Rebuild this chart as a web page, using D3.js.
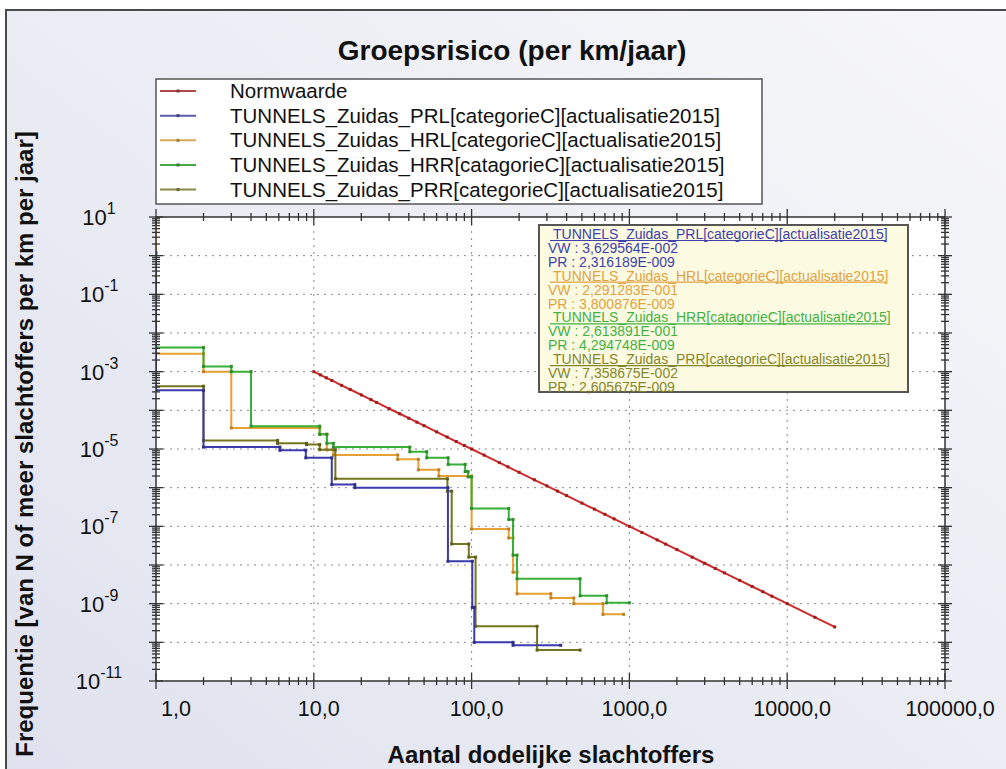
<!DOCTYPE html>
<html>
<head>
<meta charset="utf-8">
<script src="https://cdn.jsdelivr.net/npm/d3@7"></script>
<style>
  html, body { margin: 0; padding: 0; background: #fff; }
  svg { display: block; font-family: "Liberation Sans", Arial, sans-serif; }
</style>
</head>
<body>
<div id="chart"></div>
<script>
// ---- data ----
const seriesNames = [
  "Normwaarde",
  "TUNNELS_Zuidas_PRL[categorieC][actualisatie2015]",
  "TUNNELS_Zuidas_HRL[categorieC][actualisatie2015]",
  "TUNNELS_Zuidas_HRR[catagorieC][actualisatie2015]",
  "TUNNELS_Zuidas_PRR[categorieC][actualisatie2015]"
];
const seriesColors = ["#cc2b2b", "#3b3bab", "#e8a032", "#38b038", "#76761f"];
const legendColors = ["#b04848", "#5a5ab0", "#d8a858", "#48a848", "#8a8a48"];

const normN = [10, 11, 12, 13, 15, 17, 20, 23, 25, 30, 35, 40, 45, 50, 60, 70, 80, 90, 100, 120,
  150, 170, 200, 250, 300, 350, 400, 500, 600, 700, 800, 1000, 1200, 1500, 1700, 2000, 2500,
  3000, 3500, 4000, 5000, 6000, 7000, 8000, 10000, 15000, 20000];
const normF = [1e-3, 8.26e-4, 6.94e-4, 5.92e-4, 4.44e-4, 3.46e-4, 2.5e-4, 1.89e-4, 1.6e-4,
  1.11e-4, 8.16e-5, 6.25e-5, 4.94e-5, 4e-5, 2.78e-5, 2.04e-5, 1.56e-5, 1.23e-5, 1e-5, 6.94e-6,
  4.44e-6, 3.46e-6, 2.5e-6, 1.6e-6, 1.11e-6, 8.16e-7, 6.25e-7, 4e-7, 2.78e-7, 2.04e-7, 1.56e-7,
  1e-7, 6.94e-8, 4.44e-8, 3.46e-8, 2.5e-8, 1.6e-8, 1.11e-8, 8.16e-9, 6.25e-9, 4e-9, 2.78e-9,
  2.04e-9, 1.56e-9, 1e-9, 4.44e-10, 2.5e-10];

const prlN = [1, 1, 2, 6.1, 8.9, 13, 18.2, 70.8, 101, 104, 183, 367];
const prlF = [1.17, 3.3e-4, 1.12e-5, 9.3e-6, 5.9e-6, 1.2e-6, 1.0e-6, 1.25e-8, 8e-10, 1.0e-10, 8.4e-11, 8.4e-11];

const hrlN = [1, 1, 2, 3, 10.9, 12.1, 13.3, 34, 46, 62, 100, 172, 183, 194, 318, 444, 680, 920];
const hrlF = [10, 2.9e-3, 1.0e-3, 3.5e-5, 2.4e-5, 9.5e-6, 7.0e-6, 5.4e-6, 2.9e-6, 2.0e-6,
  8.5e-8, 5e-8, 6.5e-9, 1.8e-9, 1.4e-9, 1.0e-9, 5.3e-10, 5.3e-10];

const hrrN = [1, 2, 3, 4, 10.9, 12.1, 13.3, 40.6, 52, 71, 91, 95, 100, 172, 183, 194, 487, 718, 1000];
const hrrF = [4.2e-3, 1.37e-3, 1.0e-3, 3.9e-5, 2.4e-5, 1.4e-5, 1.12e-5, 8.5e-6, 5.9e-6, 4.0e-6,
  2.6e-6, 1.9e-6, 2.9e-7, 1.5e-7, 1.8e-8, 4.4e-9, 1.6e-9, 1.05e-9, 1.05e-9];

const prrN = [1, 2, 5.9, 9, 10.9, 13.7, 70.3, 74.8, 96, 106, 260, 487];
const prrF = [4.2e-4, 1.66e-5, 1.4e-5, 1.3e-5, 9.6e-6, 1.7e-6, 8.1e-7, 3.5e-8, 1.6e-8, 2.6e-10, 6.3e-11, 6.3e-11];

const xTickValues = [1, 10, 100, 1000, 10000, 100000];
const xTickLabels = ["1,0", "10,0", "100,0", "1000,0", "10000,0", "100000,0"];
const yLabelExps = [1, -1, -3, -5, -7, -9, -11];

const infoNames = seriesNames.slice(1);
const infoVW = ["3,629564E-002", "2,291283E-001", "2,613891E-001", "7,358675E-002"];
const infoPR = ["2,316189E-009", "3,800876E-009", "4,294748E-009", "2,605675E-009"];
const infoColors = ["#4040ad", "#e0a244", "#44b044", "#85852a"];

// ---- layout ----
const W = 1006, H = 769;
const plot = { left: 156, right: 945, top: 217, bottom: 681 };

const svg = d3.select("#chart").append("svg")
  .attr("width", W)
  .attr("height", H);

const defs = svg.append("defs");
const grad = defs.append("linearGradient").attr("id", "bg")
  .attr("x1", 0).attr("y1", 1).attr("x2", 1).attr("y2", 0);
grad.append("stop").attr("offset", "0%").attr("stop-color", "#dfe2ee");
grad.append("stop").attr("offset", "100%").attr("stop-color", "#f7f7fa");
defs.append("clipPath").attr("id", "clip")
  .append("rect")
  .attr("x", plot.left).attr("y", plot.top)
  .attr("width", plot.right - plot.left).attr("height", plot.bottom - plot.top);

svg.append("rect")
  .attr("x", 6).attr("y", 10).attr("width", W + 20).attr("height", H + 20)
  .attr("fill", "url(#bg)").attr("stroke", "#4a4a4a").attr("stroke-width", 2);

const x = d3.scaleLog().domain([1, 1e5]).range([plot.left, plot.right]);
const y = d3.scaleLog().domain([1e-11, 10]).range([plot.bottom, plot.top]);

// plot background
svg.append("rect")
  .attr("x", plot.left).attr("y", plot.top)
  .attr("width", plot.right - plot.left).attr("height", plot.bottom - plot.top)
  .attr("fill", "#fff");

// title
svg.append("text")
  .attr("x", 512).attr("y", 60)
  .attr("text-anchor", "middle")
  .style("font-size", "28px").style("font-weight", "bold").style("fill", "#111")
  .text("Groepsrisico (per km/jaar)");

// grid
const isDecade = v => Math.abs(Math.log10(v) - Math.round(Math.log10(v))) < 1e-9;
const grid = svg.append("g")
  .attr("stroke", "#8a8a8a").attr("stroke-width", 1).attr("stroke-dasharray", "2,5");
grid.selectAll("line.gx")
  .data(x.ticks().filter(v => isDecade(v) && v > 1 && v < 1e5))
  .join("line").attr("class", "gx")
    .attr("x1", d => x(d)).attr("x2", d => x(d))
    .attr("y1", plot.top).attr("y2", plot.bottom);
grid.selectAll("line.gy")
  .data(y.ticks(20).filter(v => isDecade(v) && v > 1e-11 && v < 10))
  .join("line").attr("class", "gy")
    .attr("y1", d => y(d)).attr("y2", d => y(d))
    .attr("x1", plot.left).attr("x2", plot.right);

// series
const line = d3.line()
  .x(d => x(d[0]))
  .y(d => y(d[1]))
  .curve(d3.curveStepAfter);

const steps = [
  { n: hrlN, f: hrlF, c: seriesColors[2] },
  { n: hrrN, f: hrrF, c: seriesColors[3] },
  { n: prrN, f: prrF, c: seriesColors[4] },
  { n: prlN, f: prlF, c: seriesColors[1] }
];

const marks = svg.append("g").attr("clip-path", "url(#clip)");

steps.forEach(s => {
  const pts = s.n.map((v, i) => [v, s.f[i]]);
  marks.append("path")
    .attr("d", line(pts))
    .attr("fill", "none")
    .attr("stroke", s.c)
    .attr("stroke-width", 2);
  // markers at both corners of every flat part
  const corners = [];
  for (let i = 0; i < pts.length - 1; i++) {
    corners.push([pts[i][0], pts[i][1]]);
    if (pts[i + 1][0] !== pts[i][0]) corners.push([pts[i + 1][0], pts[i][1]]);
  }
  marks.append("g").selectAll("rect")
    .data(corners)
    .join("rect")
      .attr("x", d => x(d[0]) - 1.5)
      .attr("y", d => y(d[1]) - 1.5)
      .attr("width", 3).attr("height", 3)
      .attr("fill", d3.color(s.c).darker(0.6));
});

const normPts = normN.map((v, i) => [v, normF[i]]);
marks.append("path")
  .attr("d", d3.line().x(d => x(d[0])).y(d => y(d[1]))(normPts))
  .attr("fill", "none")
  .attr("stroke", seriesColors[0])
  .attr("stroke-width", 2);
marks.append("g").selectAll("rect")
  .data(normPts)
  .join("rect")
    .attr("x", d => x(d[0]) - 1.5)
    .attr("y", d => y(d[1]) - 1.5)
    .attr("width", 3).attr("height", 3)
    .attr("fill", "#a01c1c");

// frame + ticks
svg.append("rect")
  .attr("x", plot.left).attr("y", plot.top)
  .attr("width", plot.right - plot.left).attr("height", plot.bottom - plot.top)
  .attr("fill", "none").attr("stroke", "#333").attr("stroke-width", 1.5);

const ticks = svg.append("g").attr("stroke", "#333").attr("stroke-width", 1.3);
const xt = x.ticks();
[plot.bottom, plot.top].forEach(py => {
  ticks.append("g").selectAll("line")
    .data(xt)
    .join("line")
      .attr("x1", d => x(d)).attr("x2", d => x(d))
      .attr("y1", d => py - (isDecade(d) ? 8 : 4))
      .attr("y2", d => py + (isDecade(d) ? 8 : 4));
});
const yt = y.ticks(20);
[plot.left, plot.right].forEach(px => {
  ticks.append("g").selectAll("line")
    .data(yt)
    .join("line")
      .attr("y1", d => y(d)).attr("y2", d => y(d))
      .attr("x1", d => px - (isDecade(d) ? 7 : 4))
      .attr("x2", d => px + (isDecade(d) ? 7 : 4));
});

// x tick labels
svg.append("g").selectAll("text")
  .data(xTickValues)
  .join("text")
    .attr("x", (d, i) => i === 0 ? x(d) + 5 : x(d) + 5)
    .attr("y", 716)
    .attr("text-anchor", (d, i) => i === 0 ? "start" : "middle")
    .style("font-size", "21.5px").style("fill", "#111")
    .text((d, i) => xTickLabels[i]);

// y tick labels
const yl = svg.append("g").selectAll("text")
  .data(yLabelExps)
  .join("text")
    .attr("x", 99)
    .attr("y", d => y(Math.pow(10, d)) + 8)
    .attr("text-anchor", "middle")
    .style("fill", "#111");
yl.append("tspan").style("font-size", "22px").text("10");
yl.append("tspan").attr("dy", -11).style("font-size", "16px").text(d => d);

// axis titles
svg.append("text")
  .attr("x", 551).attr("y", 763)
  .attr("text-anchor", "middle")
  .style("font-size", "24px").style("font-weight", "bold").style("fill", "#111")
  .text("Aantal dodelijke slachtoffers");

svg.append("text")
  .attr("transform", "translate(33,444) rotate(-90)")
  .attr("text-anchor", "middle")
  .style("font-size", "24px").style("font-weight", "bold").style("fill", "#111")
  .text("Frequentie [van N of meer slachtoffers per km per jaar]");

// legend
const legend = svg.append("g");
legend.append("rect")
  .attr("x", 156).attr("y", 79).attr("width", 606).attr("height", 125)
  .attr("fill", "#fff").attr("stroke", "#555").attr("stroke-width", 1.5);
const li = legend.selectAll("g.item")
  .data(seriesNames)
  .join("g").attr("class", "item")
    .attr("transform", (d, i) => `translate(0,${91 + i * 24.65})`);
li.append("line")
  .attr("x1", 160).attr("x2", 196).attr("y1", 0).attr("y2", 0)
  .attr("stroke", (d, i) => legendColors[i]).attr("stroke-width", 2);
li.append("rect")
  .attr("x", 176.5).attr("y", -1.5).attr("width", 3).attr("height", 3)
  .attr("fill", (d, i) => d3.color(legendColors[i]).darker(0.8));
li.append("text")
  .attr("x", 230).attr("y", 7)
  .style("font-size", "20.5px").style("fill", "#111")
  .text(d => d);

// info box
const info = svg.append("g");
info.append("rect")
  .attr("x", 539).attr("y", 225).attr("width", 369).attr("height", 167)
  .attr("fill", "#fcfbe1").attr("stroke", "#555").attr("stroke-width", 2);
const rows = [];
infoNames.forEach((nm, i) => {
  rows.push({ t: nm, c: infoColors[i], head: true });
  rows.push({ t: "VW : " + infoVW[i], c: infoColors[i], head: false });
  rows.push({ t: "PR : " + infoPR[i], c: infoColors[i], head: false });
});
const ir = info.selectAll("g.row")
  .data(rows)
  .join("g").attr("class", "row")
    .attr("transform", (d, i) => `translate(0,${234 + i * 13.9})`);
ir.append("text")
  .attr("x", d => d.head ? 553 : 548)
  .attr("y", 5)
  .style("font-size", "14px")
  .style("fill", d => d.c)
  .text(d => d.t);
ir.filter(d => d.head).append("line")
  .attr("x1", 550).attr("x2", 886).attr("y1", 6.5).attr("y2", 6.5)
  .attr("stroke", d => d.c).attr("stroke-width", 1.2);
</script>
</body>
</html>
